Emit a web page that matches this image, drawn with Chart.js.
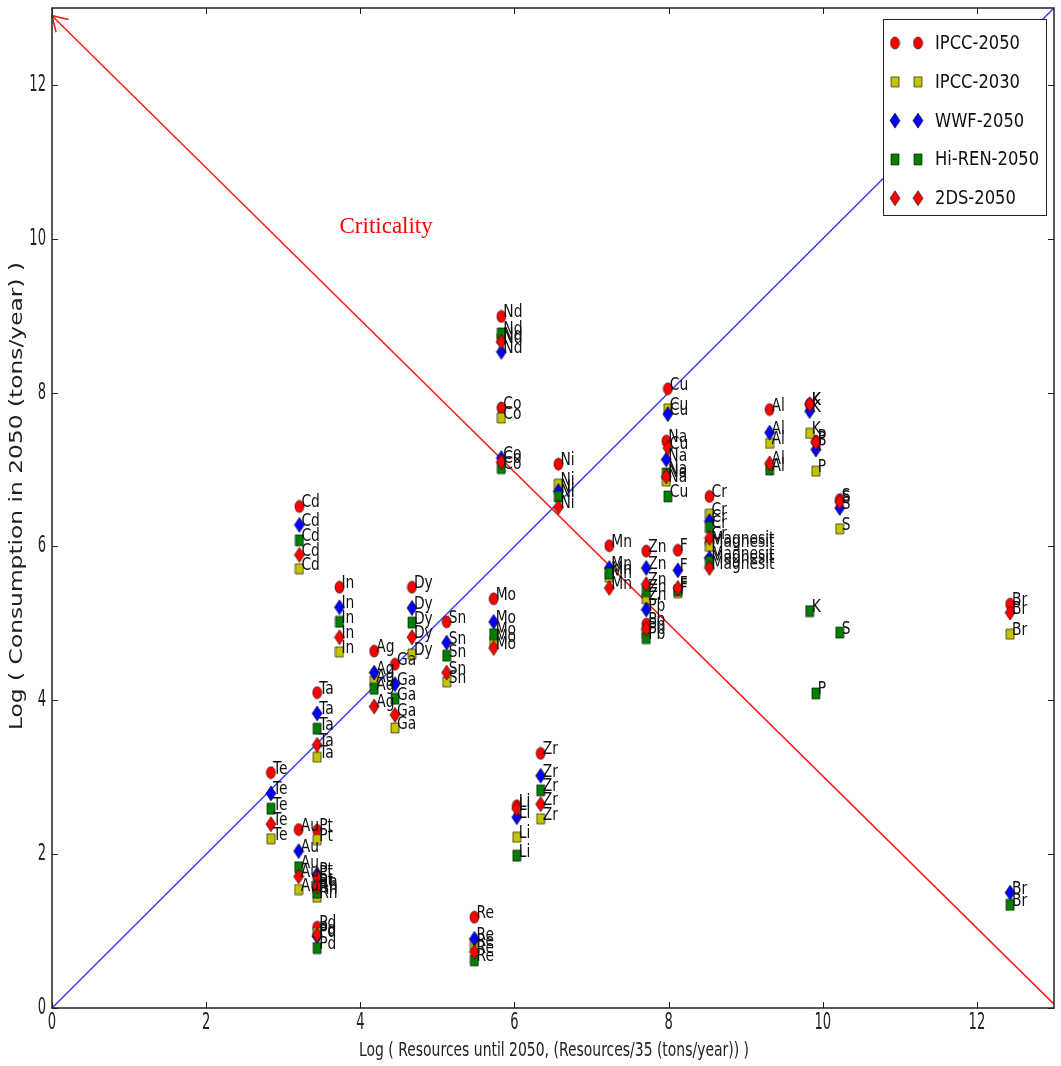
<!DOCTYPE html>
<html>
<head>
<meta charset="utf-8">
<script src="https://cdn.jsdelivr.net/npm/chart.js@4.4.1/dist/chart.umd.min.js"></script>
<style>
html, body { margin: 0; padding: 0; background: #fff; }
#wrap { width: 1061px; height: 1066px; position: relative; }
</style>
</head>
<body>
<div id="wrap"><canvas id="chart"></canvas></div>
<script>
// Metals: log of resources (x) vs log of consumption in 2050 under 5 scenarios (y)
const elements = ['Cd','In','Ta','Te','Au','Pt','Rh','Pd','Ag','Ga','Dy','Sn','Mo','Nd','Co','Ni','Li','Zr','Re',
                  'Mn','Zn','Pb','F','Cr','Magnesit','Cu','Na','Al','K','P','S','Br'];
const resources = [3.21, 3.73, 3.44, 2.84, 3.20, 3.44, 3.44, 3.44, 4.18, 4.45, 4.67, 5.12, 5.73, 5.83, 5.83, 6.57, 6.03, 6.34, 5.48,
                   7.23, 7.71, 7.71, 8.12, 8.53, 8.53, 7.99, 7.97, 9.31, 9.83, 9.91, 10.22, 12.43];
const ipcc2050  = [6.52, 5.47, 4.10, 3.06, 2.32, 2.31, 1.55, 1.05, 4.64, 4.47, 5.47, 5.02, 5.32, 8.99, 7.80, 7.07, 2.63, 3.31, 1.18,
                   6.01, 5.94, 4.99, 5.95, 6.65, 6.05, 8.05, 7.37, 7.78, 7.85, 7.37, 6.61, 5.25];
const ipcc2030  = [5.71, 4.63, 3.26, 2.20, 1.54, 2.19, 1.44, 0.98, 4.25, 3.64, 4.60, 4.24, 4.77, 8.70, 7.67, 6.81, 2.22, 2.46, 0.82,
                   5.60, 5.32, 4.87, 5.40, 6.42, 6.00, 7.79, 6.85, 7.34, 7.47, 6.98, 6.23, 4.86];
const wwf2050   = [6.28, 5.21, 3.83, 2.79, 2.04, 1.74, 1.52, 0.93, 4.36, 4.21, 5.20, 4.75, 5.02, 8.53, 7.15, 6.72, 2.48, 3.02, 0.90,
                   5.72, 5.72, 5.18, 5.69, 6.33, 5.85, 7.72, 7.13, 7.48, 7.76, 7.26, 6.50, 1.50];
const hiren2050 = [6.08, 5.02, 3.63, 2.59, 1.83, 1.60, 1.50, 0.78, 4.15, 4.02, 5.01, 4.58, 4.86, 8.77, 7.02, 6.65, 1.98, 2.83, 0.62,
                   5.65, 5.42, 4.81, 5.43, 6.25, 5.80, 6.65, 6.95, 7.00, 5.16, 4.09, 4.88, 1.34];
const ds2050    = [5.89, 4.82, 3.42, 2.39, 1.71, 1.70, 1.58, 0.95, 3.92, 3.81, 4.82, 4.36, 4.68, 8.66, 7.10, 6.51, 2.59, 2.65, 0.73,
                   5.46, 5.51, 4.93, 5.46, 6.11, 5.72, 7.28, 6.91, 7.08, 7.85, 7.35, 6.58, 5.14];

// reference lines
const diagonalX = [0, 13];
const diagonalY = [0, 13];
const criticalX = [0, 13];
const criticalY = [12.9, 0.05];

const xTicks = [0, 2, 4, 6, 8, 10, 12];
const yTicks = [0, 2, 4, 6, 8, 10, 12];

function makeMarker(shape, fill, w, h) {
    const c = document.createElement('canvas');
    c.width = w + 2;
    c.height = h + 2;
    const g = c.getContext('2d');
    const cx = c.width / 2, cy = c.height / 2;
    g.beginPath();
    if (shape === 'circle') {
        g.ellipse(cx, cy, w / 2, h / 2, 0, 0, Math.PI * 2);
    } else if (shape === 'square') {
        g.rect(1, 1, w, h);
    } else {
        g.moveTo(cx, 1);
        g.lineTo(cx + w / 2, cy);
        g.lineTo(cx, h + 1);
        g.lineTo(cx - w / 2, cy);
        g.closePath();
    }
    g.fillStyle = fill;
    g.fill();
    g.lineWidth = 0.8;
    g.strokeStyle = 'rgba(0,0,0,0.75)';
    g.stroke();
    return c;
}

const series = [
    { label: 'IPCC-2050',   values: ipcc2050,  marker: makeMarker('circle', '#ff0000', 9, 12),  order: 5 },
    { label: 'IPCC-2030',   values: ipcc2030,  marker: makeMarker('square', '#c4c400', 8, 10),  order: 4 },
    { label: 'WWF-2050',    values: wwf2050,   marker: makeMarker('diamond', '#0000ff', 10, 15), order: 3 },
    { label: 'Hi-REN-2050', values: hiren2050, marker: makeMarker('square', '#008000', 8, 11),  order: 2 },
    { label: '2DS-2050',    values: ds2050,    marker: makeMarker('diamond', '#ff0000', 10, 15), order: 1 }
];

const datasets = series.map(s => ({
    label: s.label,
    data: elements.map((name, i) => ({ x: resources[i], y: s.values[i], name: name }))
                  .filter(p => p.y !== null),
    pointStyle: s.marker,
    pointRadius: 6,
    pointHoverRadius: 6,
    showLine: false,
    order: s.order,
    isMarkers: true
}));

datasets.push({
    label: 'diagonal',
    data: diagonalX.map((x, i) => ({ x: x, y: diagonalY[i] })),
    showLine: true,
    borderColor: '#3b3bff',
    borderWidth: 1.5,
    pointRadius: 0,
    order: 10
});
datasets.push({
    label: 'critical',
    data: criticalX.map((x, i) => ({ x: x, y: criticalY[i] })),
    showLine: true,
    borderColor: '#ff1a1a',
    borderWidth: 1.5,
    pointRadius: 0,
    order: 9
});

// text squeezed horizontally like the source picture
function squeezedText(ctx, str, x, y, sx, align, baseline) {
    ctx.save();
    ctx.translate(x, y);
    ctx.scale(sx, 1);
    ctx.textAlign = align;
    ctx.textBaseline = baseline;
    ctx.fillText(str, 0, 0);
    ctx.restore();
}

const decorations = {
    id: 'decorations',
    afterDraw(chart) {
        const ctx = chart.ctx;
        const area = chart.chartArea;
        const xs = chart.scales.x, ys = chart.scales.y;

        // point labels
        ctx.save();
        ctx.fillStyle = '#111';
        ctx.font = '18px "DejaVu Sans"';
        chart.data.datasets.forEach((ds, i) => {
            if (!ds.isMarkers) return;
            chart.getDatasetMeta(i).data.forEach((pt, j) => {
                squeezedText(ctx, ds.data[j].name, pt.x + 2, pt.y + 1, 0.77, 'left', 'alphabetic');
            });
        });
        ctx.restore();

        // arrow head on the criticality line
        const tipX = xs.getPixelForValue(criticalX[0]), tipY = ys.getPixelForValue(criticalY[0]);
        const endX = xs.getPixelForValue(criticalX[1]), endY = ys.getPixelForValue(criticalY[1]);
        const ang = Math.atan2(endY - tipY, endX - tipX);
        ctx.save();
        ctx.strokeStyle = '#ff1a1a';
        ctx.lineWidth = 1.6;
        ctx.beginPath();
        ctx.moveTo(tipX + 17 * Math.cos(ang - 0.55), tipY + 17 * Math.sin(ang - 0.55));
        ctx.lineTo(tipX, tipY);
        ctx.lineTo(tipX + 17 * Math.cos(ang + 0.55), tipY + 17 * Math.sin(ang + 0.55));
        ctx.stroke();
        ctx.restore();

        // "Criticality" annotation
        ctx.save();
        ctx.fillStyle = '#ff0000';
        ctx.font = '23px "Liberation Serif"';
        ctx.textAlign = 'left';
        ctx.textBaseline = 'alphabetic';
        ctx.fillText('Criticality', xs.getPixelForValue(3.73), ys.getPixelForValue(10.07));
        ctx.restore();

        // frame and inward ticks
        ctx.save();
        ctx.strokeStyle = '#222';
        ctx.lineWidth = 1.5;
        ctx.strokeRect(area.left, area.top, area.right - area.left, area.bottom - area.top);
        ctx.lineWidth = 1;
        ctx.beginPath();
        xTicks.forEach(v => {
            const px = Math.round(xs.getPixelForValue(v)) + 0.5;
            ctx.moveTo(px, area.bottom); ctx.lineTo(px, area.bottom - 6);
            ctx.moveTo(px, area.top); ctx.lineTo(px, area.top + 6);
        });
        yTicks.forEach(v => {
            const py = Math.round(ys.getPixelForValue(v)) + 0.5;
            ctx.moveTo(area.left, py); ctx.lineTo(area.left + 6, py);
            ctx.moveTo(area.right, py); ctx.lineTo(area.right - 6, py);
        });
        ctx.stroke();

        // tick labels
        ctx.fillStyle = '#222';
        ctx.font = '23px "DejaVu Sans"';
        xTicks.forEach(v => {
            squeezedText(ctx, String(v), xs.getPixelForValue(v), area.bottom + 15, 0.57, 'center', 'middle');
        });
        yTicks.forEach(v => {
            squeezedText(ctx, String(v), area.left - 6, ys.getPixelForValue(v), 0.57, 'right', 'middle');
        });

        // axis titles
        ctx.font = '19px "DejaVu Sans"';
        const xTitle = 'Log ( Resources until 2050, (Resources/35 (tons/year)) )';
        const xw = ctx.measureText(xTitle).width;
        squeezedText(ctx, xTitle, (area.left + area.right) / 2 + 1, area.bottom + 43, 390 / xw, 'center', 'middle');
        ctx.font = '17px "DejaVu Sans"';
        const yTitle = 'Log ( Consumption in 2050 (tons/year) )';
        const yw = ctx.measureText(yTitle).width;
        ctx.save();
        ctx.translate(18, 496);
        ctx.rotate(-Math.PI / 2);
        ctx.scale(468 / yw, 1);
        ctx.textAlign = 'center';
        ctx.textBaseline = 'middle';
        ctx.fillText(yTitle, 0, 0);
        ctx.restore();
        ctx.restore();

        // legend with two markers per entry
        ctx.save();
        const lx = 883.5, ly = 19.5, lw = 163, lh = 196;
        ctx.fillStyle = '#fff';
        ctx.fillRect(lx, ly, lw, lh);
        ctx.strokeStyle = '#222';
        ctx.lineWidth = 1;
        ctx.strokeRect(lx, ly, lw, lh);
        ctx.font = '19px "DejaVu Sans"';
        ctx.fillStyle = '#111';
        series.forEach((s, i) => {
            const y = 43 + i * 38.8;
            const m = s.marker;
            ctx.drawImage(m, 895 - m.width / 2, y - m.height / 2);
            ctx.drawImage(m, 918 - m.width / 2, y - m.height / 2);
            squeezedText(ctx, s.label, 935, y + 1, 0.86, 'left', 'middle');
        });
        ctx.restore();
    }
};

new Chart(document.getElementById('chart'), {
    type: 'scatter',
    data: { datasets: datasets },
    options: {
        responsive: true,
        maintainAspectRatio: false,
        devicePixelRatio: 1,
        animation: false,
        layout: { padding: { left: 52, top: 8, right: 6, bottom: 58 } },
        plugins: {
            legend: { display: false },
            tooltip: { enabled: false }
        },
        scales: {
            x: { type: 'linear', min: 0, max: 13, display: false },
            y: { type: 'linear', min: 0, max: 13, display: false }
        }
    },
    plugins: [decorations]
});
</script>
</body>
</html>
